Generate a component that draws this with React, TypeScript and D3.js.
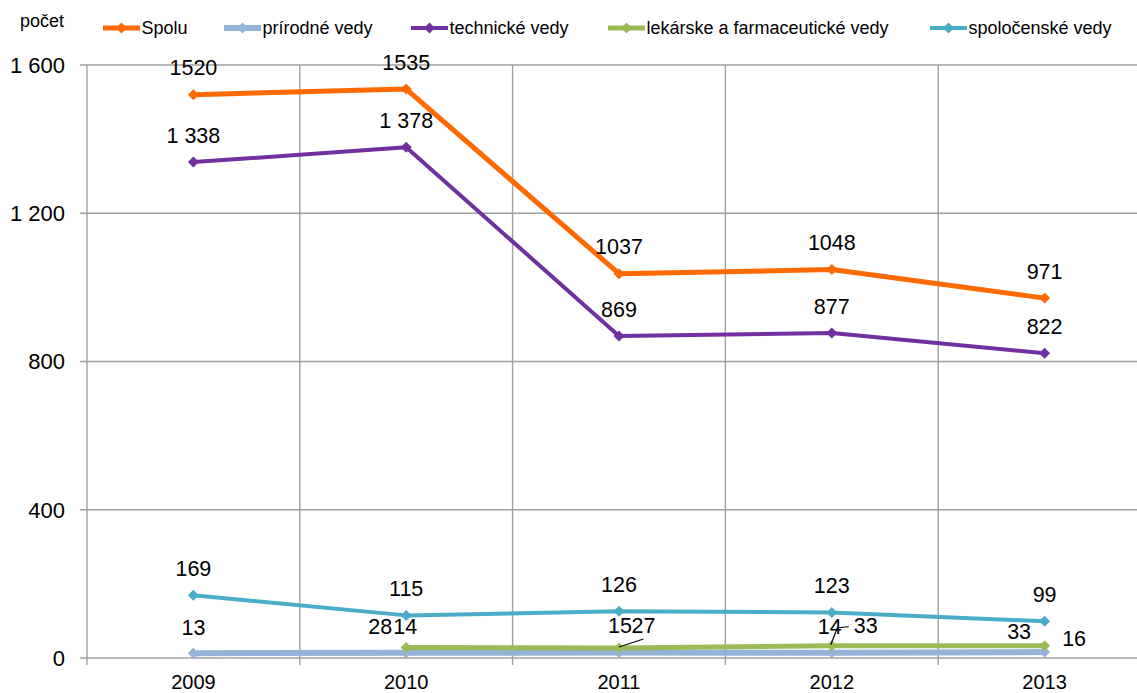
import React from "react";
import * as d3 from "d3";

// data
const years = ["2009", "2010", "2011", "2012", "2013"];
const spolu = [1520, 1535, 1037, 1048, 971];
const prirodne = [13, 14, 15, 14, 16];
const technicke = [1338, 1378, 869, 877, 822];
const lekarske: (number | null)[] = [null, 28, 27, 33, 33];
const spolocenske = [169, 115, 126, 123, 99];
const yTicks = [0, 400, 800, 1200, 1600];

const W = 1137;
const H = 693;
const FONT = "'Liberation Sans', Arial, sans-serif";

const spaceFmt = d3.formatLocale({ decimal: ",", thousands: " ", grouping: [3], currency: ["", ""] }).format(",d");
const plainFmt = (v: number) => String(v);

// label placement (center of label relative to point); the small series were pushed around by hand
const defaultOff: [number, number] = [0, -27];
const series = [
  { name: "Spolu", values: spolu, color: "#FF6A00", width: 5, fmt: plainFmt, offs: [] as ([number, number] | null)[] },
  { name: "prírodné vedy", values: prirodne, color: "#95B3D7", width: 6, fmt: plainFmt,
    offs: [[0, -26], [-1, -27], [1, -27], [-2, -27], [29.5, -14]] as ([number, number] | null)[] },
  { name: "technické vedy", values: technicke, color: "#7030A0", width: 4, fmt: spaceFmt, offs: [] as ([number, number] | null)[] },
  { name: "lekárske a farmaceutické vedy", values: lekarske, color: "#9BBB59", width: 5, fmt: plainFmt,
    offs: [null, [-26, -21.6], [24.5, -22.5], [34, -20.3], [-25.5, -14.3]] as ([number, number] | null)[] },
  { name: "spoločenské vedy", values: spolocenske, color: "#4BACC6", width: 4, fmt: plainFmt, offs: [] as ([number, number] | null)[] },
];

// leader lines of lekárske labels (relative to the point)
const leaders: { s: number; i: number; pts: [number, number][] }[] = [
  { s: 3, i: 2, pts: [[0, -1], [24.5, -9]] },
  { s: 3, i: 3, pts: [[-1, -1], [5.5, -18], [17, -19]] },
];

const legendX = [103, 224, 411, 608, 930];

const diamond = (cx: number, cy: number, r: number) =>
  `M${cx},${cy - r}L${cx + r},${cy}L${cx},${cy + r}L${cx - r},${cy}Z`;

export default function App() {
  const x = d3.scaleBand<string>().domain(years).range([87, 87 + 5 * 212.8]).padding(0);
  const y = d3.scaleLinear().domain([0, 1600]).range([658, 65]);
  const cx = (i: number) => (x(years[i]) as number) + x.bandwidth() / 2;
  const bounds = years.map((yr) => x(yr) as number).concat([87 + 5 * 212.8]);
  const grid = "#A0A0A0";

  return (
    <svg width={W} height={H} style={{ position: "absolute", left: 0, top: 0, background: "#fff" }} fontFamily={FONT}>
      <rect width={W} height={H} fill="#fff" />
      {/* gridlines */}
      {yTicks.map((t) => (
        <g key={t}>
          <line x1={80} x2={W} y1={y(t)} y2={y(t)} stroke={grid} strokeWidth={1.4} />
          <text x={65} y={y(t) + 7.9} textAnchor="end" fontSize={22} fill="#000">
            {spaceFmt(t)}
          </text>
        </g>
      ))}
      {bounds.map((b, i) => (
        <line key={i} x1={b} x2={b} y1={y(1600)} y2={y(0) + 7} stroke={grid} strokeWidth={1.4} />
      ))}
      {years.map((yr, i) => (
        <text key={yr} x={cx(i)} y={689} textAnchor="middle" fontSize={20} fill="#000">
          {yr}
        </text>
      ))}

      {/* lines */}
      {series.map((s) => {
        const line = d3
          .line<number | null>()
          .defined((d) => d != null)
          .x((_, i) => cx(i))
          .y((d) => y(d as number));
        return (
          <g key={s.name}>
            <path d={line(s.values) || ""} fill="none" stroke={s.color} strokeWidth={s.width} strokeLinejoin="round" />
            {s.values.map((v, i) =>
              v == null ? null : <path key={i} d={diamond(cx(i), y(v), 5.5)} fill={s.color} />
            )}
          </g>
        );
      })}

      {/* leader lines */}
      {leaders.map((l, k) => {
        const v = series[l.s].values[l.i] as number;
        const px = cx(l.i);
        const py = y(v);
        return (
          <polyline
            key={k}
            points={l.pts.map(([dx, dy]) => `${px + dx},${py + dy}`).join(" ")}
            fill="none"
            stroke="#000"
            strokeWidth={1.2}
          />
        );
      })}

      {/* data labels */}
      {series.map((s) =>
        s.values.map((v, i) => {
          if (v == null) return null;
          const [dx, dy] = s.offs[i] || defaultOff;
          return (
            <text key={s.name + i} x={cx(i) + dx} y={y(v) + dy + 7.7} textAnchor="middle" fontSize={21.5} fill="#000">
              {s.fmt(v)}
            </text>
          );
        })
      )}

      {/* title + legend */}
      <text x={20} y={27} fontSize={18} fill="#000">počet</text>
      {series.map((s, i) => (
        <g key={s.name}>
          <line x1={legendX[i]} x2={legendX[i] + 37} y1={28} y2={28} stroke={s.color} strokeWidth={s.width} />
          <path d={diamond(legendX[i] + 18.5, 28, 5.5)} fill={s.color} />
          <text x={legendX[i] + 38.5} y={34.3} fontSize={18} fill="#000">
            {s.name}
          </text>
        </g>
      ))}
    </svg>
  );
}
